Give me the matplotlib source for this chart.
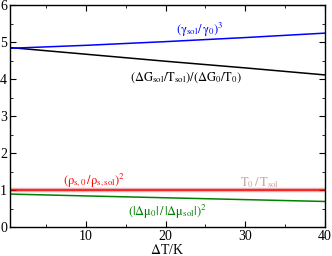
import matplotlib
matplotlib.use("Agg")
import matplotlib.pyplot as plt
from matplotlib.ticker import MultipleLocator

plt.rcParams['font.family'] = ['Liberation Serif', 'DejaVu Serif']
plt.rcParams['mathtext.fontset'] = 'stix'

dT = [0.5, 10, 20, 30, 40]
gamma_ratio = [4.83, 4.91, 5.01, 5.12, 5.24]
dG_ratio = [4.85, 4.67, 4.48, 4.30, 4.11]
rho_ratio = [1.0, 1.0, 1.0, 1.0, 1.0]
T_ratio = [1.0, 1.0, 1.0, 1.0, 1.0]
mu_ratio = [0.89, 0.84, 0.79, 0.74, 0.69]

fig = plt.figure(figsize=(3.32, 2.56), dpi=100)
ax = fig.add_axes([10/332, 1-227/256, 315/332, 222/256])

ax.plot(dT, T_ratio, color='#e8b0b0', lw=3.2, zorder=1)
ax.plot(dT, rho_ratio, color='#ff0000', lw=1.1, zorder=2)
ax.plot(dT, mu_ratio, color='#008000', lw=1.1, zorder=2)
ax.plot(dT, dG_ratio, color='black', lw=1.1, zorder=2)
ax.plot(dT, gamma_ratio, color='#0000ff', lw=1.1, zorder=2)

ax.set_xlim(0.5, 40)
ax.set_ylim(0, 6)
ax.xaxis.set_major_locator(MultipleLocator(10))
ax.xaxis.set_minor_locator(MultipleLocator(5))
ax.yaxis.set_major_locator(MultipleLocator(1))
ax.yaxis.set_minor_locator(MultipleLocator(0.5))
ax.tick_params(which='both', direction='in', top=True, right=True, labelsize=10, pad=2)
ax.tick_params(which='major', length=4)
ax.tick_params(which='minor', length=2)
for s in ax.spines.values():
    s.set_linewidth(1.0)

ax.set_xlabel(r'$\Delta$T/K', fontsize=10, labelpad=0)

fs = 9
ax.text(21.3, 5.32, r'$(\mathrm{\gamma_{sol}/\,\gamma_0})^3$', color='#0000ff', fontsize=fs, va='center')
ax.text(15.5, 4.03, r'$(\mathrm{\Delta G_{sol}/T_{sol}})/(\mathrm{\Delta G_0/T_0})$', color='black', fontsize=fs, va='center')
ax.text(7.1, 1.27, r'$(\mathrm{\rho_{s,0}\,/\rho_{s,sol}})^2$', color='#ff0000', fontsize=fs, va='center')
ax.text(29.3, 1.2, r'$\mathrm{T_0\,/\,T_{sol}}$', color='#c8a0a0', fontsize=fs, va='center')
ax.text(15.3, 0.4, r'$(|\mathrm{\Delta\mu_0}|\,/\,|\mathrm{\Delta\mu_{sol}}|)^2$', color='#008000', fontsize=fs, va='center')

fig.savefig('out.png', dpi=100)
